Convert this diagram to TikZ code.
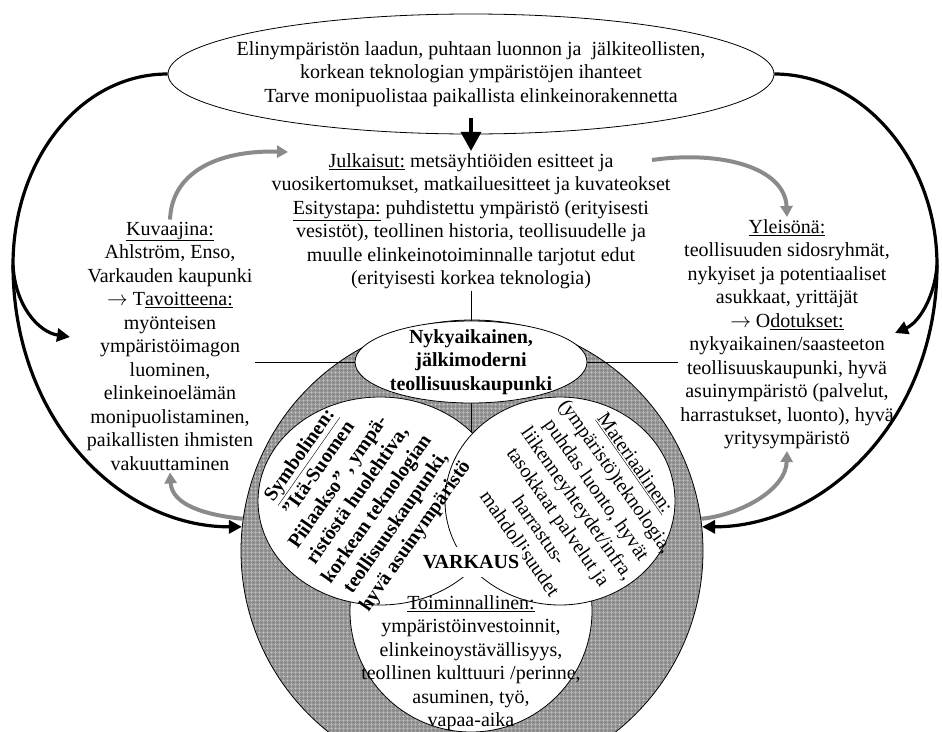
\documentclass[tikz,border=0pt]{standalone}
\usepackage{fontspec}
\setmainfont{Liberation Serif}
\usepackage{tikz}
\usetikzlibrary{arrows.meta,shapes.geometric,patterns.meta}
\definecolor{vkgray}{HTML}{8A8A8A}
\definecolor{vkring}{HTML}{8E8E8E}
\definecolor{vkgrid}{HTML}{C4C4C4}

\begin{document}
\begin{tikzpicture}[x=1pt,y=-1pt,
  txt/.style={align=center,inner sep=2pt,font=\fontsize{20}{23.5}\selectfont},
  btxt/.style={txt,font=\fontsize{20}{23.5}\selectfont\bfseries},
  oval/.style={draw,ellipse,fill=white,line width=0.8pt,inner sep=0pt},
  ring/.style={draw,circle,line width=0.8pt,inner sep=0pt,preaction={fill=vkring},
    pattern={Hatch[angle=0,distance=4pt,line width=0.7pt]},pattern color=vkgrid},
  blackarr/.style={line width=3.2pt,-{Triangle[length=13pt,width=13pt]}},
  grayarr/.style={draw=vkgray,line width=4pt,-{Triangle[length=11pt,width=12pt]}},
  downarr/.style={line width=3.5pt,-{Triangle[length=19pt,width=20pt]}}]
  \useasboundingbox (0,0) rectangle (942,731);
  \node[oval,minimum width=606pt,minimum height=120pt] (ideal) at (471,74) {};
  \node[txt] (idealtxt) at (ideal) {Elinympäristön laadun, puhtaan luonnon ja~ jälkiteollisten,\\korkean teknologian ympäristöjen ihanteet\\Tarve monipuolistaa paikallista elinkeinorakennetta};
  \node[txt] (julk) at (471,221) {\underline{Julkaisut:} metsäyhtiöiden esitteet ja\\vuosikertomukset, matkailuesitteet ja kuvateokset\\\underline{Esitystapa:} puhdistettu ympäristö (erityisesti\\vesistöt), teollinen historia, teollisuudelle ja\\muulle elinkeinotoiminnalle tarjotut edut\\(erityisesti korkea teknologia)};
  \node[txt] (kuv) at (170,346) {\underline{Kuvaajina:}\\Ahlström, Enso,\\Varkauden kaupunki\\$\rightarrow$ T\underline{avoitteena:}\\myönteisen\\ympäristöimagon\\luominen,\\elinkeinoelämän\\monipuolistaminen,\\paikallisten ihmisten\\vakuuttaminen};
  \node[txt] (yle) at (787,334) {\underline{Yleisönä:}\\teollisuuden sidosryhmät,\\nykyiset ja potentiaaliset\\asukkaat, yrittäjät\\$\rightarrow$ O\underline{dotukset:}\\nykyaikainen/saasteeton\\teollisuuskaupunki, hyvä\\asuinympäristö (palvelut,\\harrastukset, luonto), hyvä\\yritysympäristö};

  \node[ring,minimum size=462pt] (bigc) at (472,551) {};
  \draw[line width=0.8pt] (julk.south) -- (julk.south |- bigc.center);
  \draw[line width=0.8pt] (kuv.east |- 0,362) -- (yle.west |- 0,362);
  \node[oval,minimum width=242pt,minimum height=242pt] (toimic) at (471,611) {};
  \node[oval,minimum width=244pt,minimum height=208pt] (symbc) at (380,501) {};
  \node[oval,minimum width=230pt,minimum height=208pt] (materc) at (560,501) {};
  \node[oval,minimum width=232pt,minimum height=82pt] (nyky) at (471,362) {};
  \node[btxt] (nykytxt) at (nyky) {Nykyaikainen,\\jälkimoderni\\teollisuuskaupunki};

  \node[btxt,rotate=55] (symb) at (358,496) {\underline{Symbolinen:}\\”Itä-Suomen\\Piilaakso” , ympä-\\ristöstä huolehtiva,\\korkean teknologian\\teollisuuskaupunki,\\hyvä asuinympäristö};
  \node[txt,rotate=-55] (mater) at (578,503) {\underline{Materiaalinen:}\\(ympäristö)teknologia,\\puhdas luonto, hyvät\\liikenneyhteydet/infra,\\tasokkaat palvelut ja\\harrastus-\\mahdollisuudet};
  \node[btxt,fill=white,inner xsep=3pt,inner ysep=8pt] (varkaus) at (471,562) {VARKAUS};
  \node[txt] (toimi) at (471,663) {\underline{Toiminnallinen:}\\ympäristöinvestoinnit,\\elinkeinoystävällisyys,\\teollinen kulttuuri /perinne,\\asuminen, työ,\\vapaa-aika};

  \draw[downarr] ([yshift=16pt]ideal.south) -- (julk.north);
  \coordinate (lsplit) at (13,265);
  \coordinate (ltip) at (70,337);
  \coordinate (rsplit) at (937,265);
  \coordinate (rtip) at (895,333);
  \draw[blackarr] (ideal.west) .. controls (80,74) and (13,160) .. (lsplit) .. controls (13,420) and (120,527) .. (bigc.174);
  \draw[blackarr] (lsplit) .. controls (15,305) and (38,332) .. (ltip);
  \draw[blackarr] (ideal.east) .. controls (862,74) and (937,160) .. (rsplit) .. controls (937,420) and (824,527) .. (bigc.6);
  \draw[blackarr] (rsplit) .. controls (935,295) and (920,322) .. (rtip);

  \coordinate (gtipA) at (288,152);
  \coordinate (gtailB) at (652,160);
  \draw[grayarr] (kuv.north) .. controls (172,168) and (225,150) .. (gtipA);
  \draw[grayarr] (gtailB) .. controls (722,150) and (785,168) .. (yle.north);
  \draw[grayarr] (bigc.172) .. controls (205,515) and (172,505) .. (kuv.south);
  \draw[grayarr] (bigc.8) .. controls (740,515) and (786,490) .. (yle.south);
\end{tikzpicture}
\end{document}
